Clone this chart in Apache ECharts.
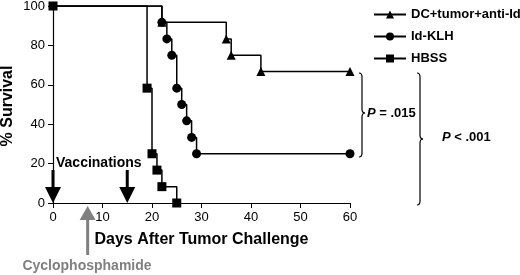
<!DOCTYPE html>
<html>
<head>
<meta charset="utf-8">
<script src="https://cdn.jsdelivr.net/npm/echarts@6/dist/echarts.min.js"></script>
<style>
  html, body { margin: 0; padding: 0; background: #fff; }
  #chart { width: 520px; height: 275px; }
</style>
</head>
<body>
<div id="chart"></div>
<script>
// Kaplan-Meier steps: days and % survival (marker sits at new level)
const dcDays = [0, 22, 35, 36, 42, 60];
const dcSurv = [100, 91.7, 83.3, 75, 66.7, 66.7];
const klhDays = [0, 22, 23, 24, 25, 26, 27, 28, 29, 60];
const klhSurv = [100, 91.7, 83.3, 75, 58.3, 50, 41.7, 33.3, 25, 25];
const hbssDays = [0, 19, 20, 21, 22, 25];
const hbssSurv = [100, 58.3, 25, 16.7, 8.3, 0];
const vaccDays = [0, 15];
const cycloDay = 7;

const font = "Liberation Sans, Arial, sans-serif";

function pts(days, surv, hideFirst) {
  return days.map((d, i) => {
    const item = { value: [d, surv[i]] };
    if (hideFirst && i === 0) item.symbol = "none";
    return item;
  });
}

const chart = echarts.init(document.getElementById("chart"));

function line(name, sym, size, data) {
  return {
    name: name,
    type: "line",
    step: "end",
    data: data,
    symbol: sym,
    symbolSize: size,
    showAllSymbol: true,
    lineStyle: { color: "#000", width: 1.5 },
    itemStyle: { color: "#000" }
  };
}

const option = {
  animation: false,
  grid: { left: 53, right: 170, top: 6, bottom: 72, outerBoundsMode: "none" },
  legend: {
    orient: "vertical",
    left: 368,
    top: 3,
    itemWidth: 32,
    itemHeight: 10,
    itemGap: 9,
    textStyle: { fontFamily: font, fontWeight: "bold", fontSize: 13, color: "#000" },
    data: ["DC+tumor+anti-Id", "Id-KLH", "HBSS"]
  },
  xAxis: {
    type: "value",
    min: 0, max: 60, interval: 10,
    name: "Days After Tumor Challenge",
    nameLocation: "middle",
    nameGap: 29,
    nameTextStyle: { fontFamily: font, fontWeight: "bold", fontSize: 16, color: "#000" },
    axisLine: { lineStyle: { color: "#000", width: 1.2 } },
    axisTick: { length: 5, lineStyle: { color: "#000" } },
    axisLabel: { fontFamily: font, fontSize: 13, color: "#000", margin: 8 },
    splitLine: { show: false }
  },
  yAxis: {
    type: "value",
    min: 0, max: 100, interval: 20,
    axisLine: { show: true, lineStyle: { color: "#000", width: 1.2 } },
    axisTick: { show: true, length: 5, lineStyle: { color: "#000" } },
    axisLabel: { fontFamily: font, fontSize: 13, color: "#000", margin: 8 },
    splitLine: { show: false }
  },
  series: [
    line("DC+tumor+anti-Id", "triangle", 9, pts(dcDays, dcSurv, true)),
    line("Id-KLH", "circle", 9, pts(klhDays, klhSurv, true)),
    line("HBSS", "rect", 9, pts(hbssDays, hbssSurv, false))
  ]
};
chart.setOption(option);

// curly brace pointing right, built from bezier curves and lines
function brace(x0, top, bottom, mid, w) {
  const xm = x0 + w / 2, r = 4;
  const st = { stroke: "#000", fill: "none", lineWidth: 1.2 };
  const curve = (a, c, b) => ({ type: "bezierCurve", shape: { x1: a[0], y1: a[1], cpx1: c[0], cpy1: c[1], x2: b[0], y2: b[1] }, style: st });
  return [
    curve([x0, top], [xm, top], [xm, top + r]),
    { type: "line", shape: { x1: xm, y1: top + r, x2: xm, y2: mid - r }, style: st },
    curve([xm, mid - r], [xm, mid], [x0 + w, mid]),
    curve([x0 + w, mid], [xm, mid], [xm, mid + r]),
    { type: "line", shape: { x1: xm, y1: mid + r, x2: xm, y2: bottom - r }, style: st },
    curve([xm, bottom - r], [xm, bottom], [x0, bottom])
  ];
}

const y0 = chart.convertToPixel({ gridIndex: 0 }, [0, 0])[1];
let g = [];
// y axis title
g.push({ type: "text", x: 8, y: 106, rotation: Math.PI / 2,
  style: { text: "% Survival", fill: "#000", font: "bold 16px " + font, align: "center", verticalAlign: "middle" } });
vaccDays.forEach(d => {
  const x = chart.convertToPixel({ gridIndex: 0 }, [d, 0])[0];
  g.push({ type: "line", shape: { x1: x, y1: y0 - 33, x2: x, y2: y0 - 15 }, style: { stroke: "#000", lineWidth: 3 } });
  g.push({ type: "polygon", shape: { points: [[x - 8, y0 - 16], [x + 8, y0 - 16], [x, y0]] }, style: { fill: "#000" } });
});
const cx = chart.convertToPixel({ gridIndex: 0 }, [cycloDay, 0])[0];
g.push({ type: "line", shape: { x1: cx, y1: 255, x2: cx, y2: 219 }, style: { stroke: "#808080", lineWidth: 3 } });
g.push({ type: "polygon", shape: { points: [[cx - 8, 220], [cx + 8, 220], [cx, 206]] }, style: { fill: "#808080" } });
g.push({ type: "text", x: 87, y: 266, style: { text: "Cyclophosphamide", fill: "#808080", font: "bold 14px " + font, align: "center", verticalAlign: "middle" } });
g.push({ type: "text", x: 56, y: 163, style: { text: "Vaccinations", fill: "#000", font: "bold 14px " + font, align: "left", verticalAlign: "middle" } });
g = g.concat(brace(359, 73, 157, 113, 6));
g = g.concat(brace(417, 73, 205, 139, 6));
g.push({ type: "text", x: 367, y: 113, style: {
  text: "{i|P} = .015", verticalAlign: "middle", font: "bold 13px " + font, fill: "#000",
  rich: { i: { fontStyle: "italic", fontWeight: "bold", fontSize: 13, fontFamily: font } } } });
g.push({ type: "text", x: 442, y: 137, style: {
  text: "{i|P} < .001", verticalAlign: "middle", font: "bold 13px " + font, fill: "#000",
  rich: { i: { fontStyle: "italic", fontWeight: "bold", fontSize: 13, fontFamily: font } } } });
chart.setOption({ graphic: g });
</script>
</body>
</html>
